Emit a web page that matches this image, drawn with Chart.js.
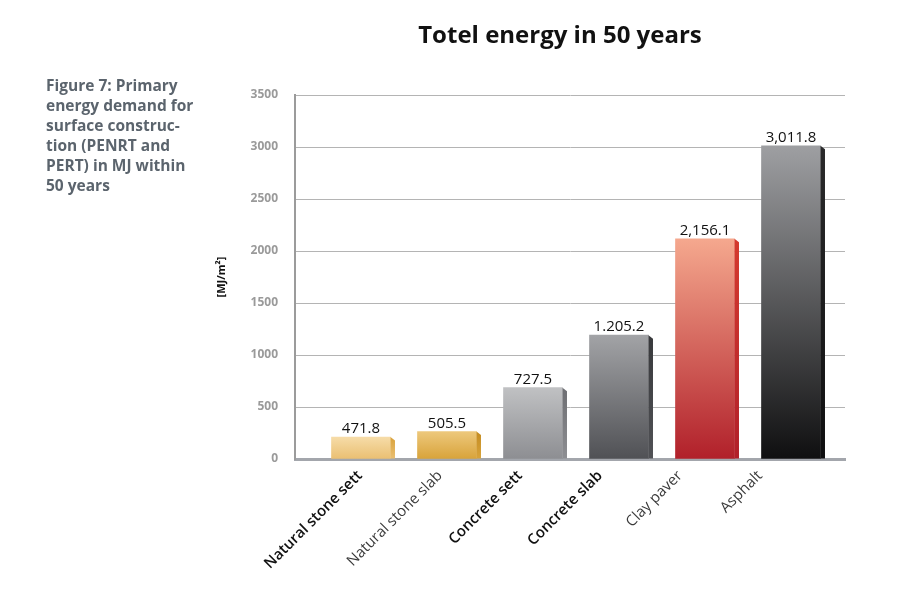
<!DOCTYPE html>
<html>
<head>
<meta charset="utf-8">
<script src="https://cdn.jsdelivr.net/npm/chart.js@4"></script>
<style>
  body { margin: 0; background: #fff; }
  #wrap { position: relative; width: 909px; height: 605px; }
  #caption {
    position: absolute; left: 46px; top: 75px;
    font: bold 15.5px "Open Sans", sans-serif; line-height: 20px;
    color: #5b646d;
  }
</style>
</head>
<body>
<div id="wrap">
  <canvas id="chart" width="909" height="605"></canvas>
  <div id="caption">Figure 7: Primary<br>energy demand for<br>surface construc-<br>tion (PENRT and<br>PERT) in MJ within<br>50 years</div>
</div>
<script>
// bar heights as drawn, and the printed value labels
const categories = ['Natural stone sett', 'Natural stone slab', 'Concrete sett', 'Concrete slab', 'Clay paver', 'Asphalt'];
const barValues = [211, 264, 686, 1191, 2117, 3011];
const valueLabels = ['471.8', '505.5', '727.5', '1.205.2', '2,156.1', '3,011.8'];
const boldLabels = [0, 2, 3];
const chartTitle = 'Totel energy in 50 years';

const topColors = ['#f6dca8', '#edc87c', '#c0c1c3', '#a2a3a6', '#f5a88e', '#9e9fa2'];
const bottomColors = ['#eabf72', '#d8a33a', '#8d8e92', '#505155', '#b1202a', '#0f0f10'];
const sideColors = ['#d9a23c', '#c48c22', '#6d6e72', '#38393c', '#d43a2e', '#2a2a2b'];

const FONT = '"Open Sans", sans-serif';

function barGradient(ctx) {
    const chart = ctx.chart;
    const i = ctx.dataIndex;
    const ys = chart.scales.y;
    if (!ys || !chart.chartArea) return topColors[i];
    const g = chart.ctx.createLinearGradient(0, ys.getPixelForValue(barValues[i]), 0, ys.getPixelForValue(0));
    g.addColorStop(0, topColors[i]);
    g.addColorStop(1, bottomColors[i]);
    return g;
}

// side face, value labels and chart title
const extras = {
    id: 'extras',
    afterDatasetsDraw(chart) {
        const c = chart.ctx;
        const meta = chart.getDatasetMeta(0);
        meta.data.forEach((el, i) => {
            const right = el.x + el.width / 2;
            const g = c.createLinearGradient(0, el.y, 0, el.base);
            g.addColorStop(0, sideColors[i]);
            g.addColorStop(1, bottomColors[i]);
            c.save();
            c.fillStyle = g;
            c.beginPath();
            c.moveTo(right, el.y);
            c.lineTo(right + 4.5, el.y + 3.5);
            c.lineTo(right + 4.5, el.base);
            c.lineTo(right, el.base);
            c.closePath();
            c.fill();
            c.fillStyle = '#111';
            c.font = '15px ' + FONT;
            c.textAlign = 'center';
            c.textBaseline = 'alphabetic';
            c.fillText(valueLabels[i], el.x, el.y - 4);
            c.restore();
        });
        c.save();
        c.fillStyle = '#111';
        c.font = 'bold 24px ' + FONT;
        c.textAlign = 'center';
        c.textBaseline = 'middle';
        c.fillText(chartTitle, 560, 36);
        c.restore();
    }
};

new Chart(document.getElementById('chart'), {
    type: 'bar',
    data: {
        datasets: [{
            data: barValues.map((v, i) => ({ x: i, y: v })),
            backgroundColor: barGradient,
            borderWidth: 0,
            barThickness: 59,
            xAxisID: 'x'
        }]
    },
    options: {
        responsive: false,
        animation: false,
        layout: { padding: { left: 208, right: 64, top: 95, bottom: 0 } },
        plugins: {
            legend: { display: false },
            tooltip: { enabled: false }
        },
        scales: {
            x: {
                type: 'linear',
                display: false,
                offset: false,
                grid: { offset: false },
                min: -0.7674,
                max: 5.628
            },
            xl: {
                type: 'linear',
                position: 'bottom',
                offset: false,
                min: -0.8125,
                max: 6.0625,
                afterBuildTicks: s => { s.ticks = categories.map((_, i) => ({ value: i })); },
                afterFit: s => { s.height = 146; },
                grid: { display: false, drawTicks: false, offset: false },
                border: { color: '#a3a6ac', width: 3 },
                ticks: {
                    minRotation: 45,
                    maxRotation: 45,
                    padding: 8,
                    autoSkip: false,
                    callback: v => categories[v],
                    color: c => boldLabels.includes(c.index) ? '#111' : '#3a3a3a',
                    font: c => ({ family: FONT, size: 15, weight: boldLabels.includes(c.index) ? '600' : 'normal' })
                }
            },
            y: {
                min: 0,
                max: 3500,
                afterFit: s => { s.width = 87; },
                border: { color: '#9b9b9b', width: 2 },
                grid: { color: '#b4b4b4', lineWidth: 1, drawTicks: false },
                title: {
                    display: true,
                    text: '[MJ/m²]',
                    color: '#111',
                    font: { family: FONT, size: 11, weight: 'bold' },
                    padding: { top: 7, bottom: 0 }
                },
                ticks: {
                    stepSize: 500,
                    padding: 17,
                    color: '#9a9a9a',
                    callback: v => String(v),
                    font: { family: FONT, size: 12, weight: 'bold' }
                }
            }
        }
    },
    plugins: [extras]
});
</script>
</body>
</html>
